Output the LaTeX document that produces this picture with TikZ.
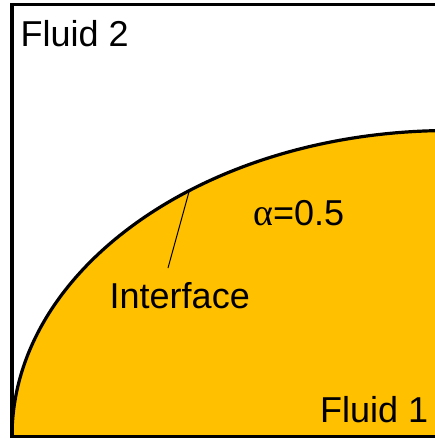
\documentclass[tikz,border=0pt]{standalone}
\usepackage{fontspec}
\setmainfont{Liberation Sans}
\newfontfamily\greekfont{Liberation Serif}
\definecolor{fluidone}{RGB}{255,192,0}
\begin{document}
\begin{tikzpicture}[x=1pt,y=1pt,
  lbl/.style={anchor=base west,inner sep=0pt,font=\fontsize{36}{42}\selectfont},
  bord/.style={line width=3.2pt}]
\useasboundingbox (0,0) rectangle (435,-439);
\begin{scope}
\clip (0,0) rectangle (435,-439);
\fill[fluidone] (12,-436.5) arc[start angle=180,end angle=90,x radius=438,y radius=306] -- (450,-436.5) -- cycle;
\draw[bord] (12,-436.5) arc[start angle=180,end angle=90,x radius=438,y radius=306];
\draw[bord] (460,-4.5) -- (12,-4.5) -- (12,-436.5) -- (460,-436.5);
\end{scope}
\node[lbl] (f2) at (20.5,-46) {Fluid 2};
\node[lbl] (f1) at (320,-422) {Fluid 1};
\node[lbl] (al) at (253,-225) {{\greekfont\fontsize{38}{42}\selectfont α}=0.5};
\node[lbl] (itf) at (109.5,-308) {Interface};
\coordinate (ifcA) at (189.5,-190);
\coordinate (ifcB) at (168,-268);
\draw[line width=1pt] (ifcA) -- (ifcB);
\end{tikzpicture}
\end{document}
